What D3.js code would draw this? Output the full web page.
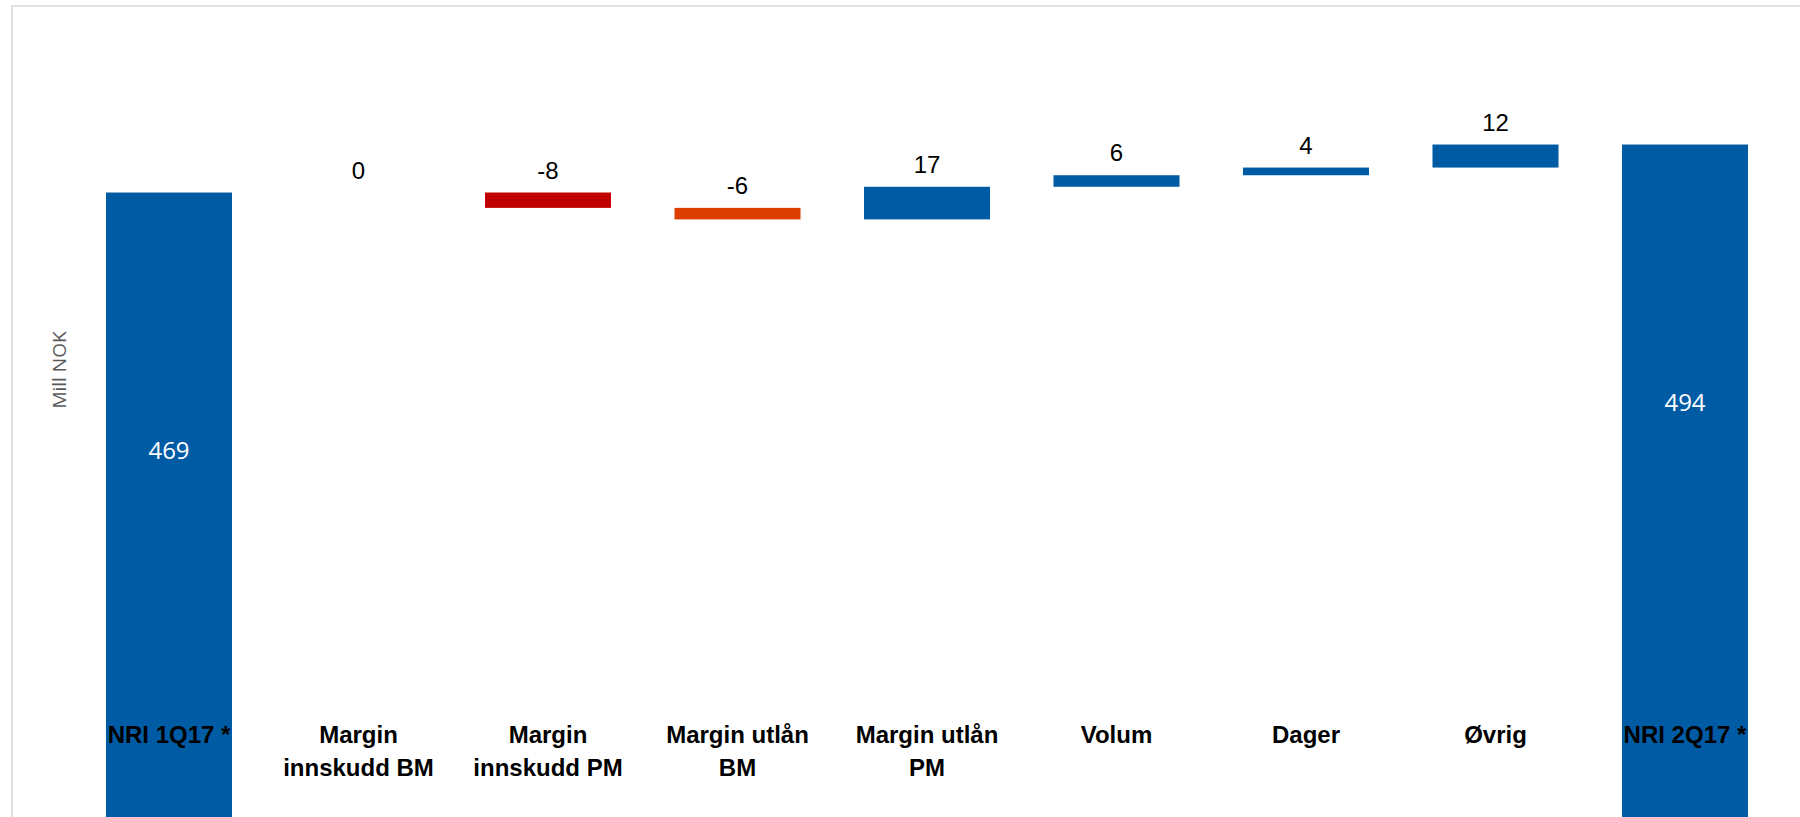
<!DOCTYPE html>
<html>
<head>
<meta charset="utf-8">
<script src="https://cdn.jsdelivr.net/npm/d3@7"></script>
<style>
  body { margin: 0; background: #fff; }
  svg { display: block; }
</style>
</head>
<body>
<div id="canvas"></div>
<script>
// chart data
var categories = ['NRI 1Q17 *', 'Margin innskudd BM', 'Margin innskudd PM', 'Margin utlån BM',
                  'Margin utlån PM', 'Volum', 'Dager', 'Øvrig', 'NRI 2Q17 *'];
var values = [469, 0, -8, -6, 17, 6, 4, 12, 494];
var kinds = ['total', 'delta', 'delta', 'delta', 'delta', 'delta', 'delta', 'delta', 'total'];
var yLabel = 'Mill NOK';

var W = 1800, H = 817;

var svg = d3.select('#canvas')
    .append('svg')
    .attr('width', W)
    .attr('height', H);

// light frame (left and top edges only visible)
svg.append('path')
    .attr('d', 'M12,' + H + 'V6H' + W)
    .attr('fill', 'none')
    .attr('stroke', '#e1e1e1')
    .attr('stroke-width', 2);

// build waterfall rows
var running = 0;
var rows = categories.map(function(c, i){
  var v = values[i], r;
  if (kinds[i] === 'total') {
    r = {cat: c, value: v, kind: 'total', lo: 0, hi: v};
    running = v;
  } else {
    var start = running;
    running += v;
    r = {cat: c, value: v, kind: 'delta', lo: Math.min(start, running), hi: Math.max(start, running)};
  }
  return r;
});

var x = d3.scaleBand()
    .domain(categories)
    .range([106, 1748])
    .paddingInner(0.335)
    .paddingOuter(0);

// axis starts far below the visible part of the picture
var y = d3.scaleLinear()
    .domain([0, 500])
    .range([1093, 133]);

var color = d3.scaleOrdinal()
    .domain(['Margin innskudd PM', 'Margin utlån BM'])
    .range(['#c00000', '#dc3d00'])
    .unknown('#005ba5');

var bars = svg.selectAll('.bar')
    .data(rows)
    .enter()
    .append('g')
    .attr('class', 'bar')
    .attr('transform', function(d){ return 'translate(' + x(d.cat) + ',0)'; });

bars.append('rect')
    .attr('width', x.bandwidth())
    .attr('y', function(d){ return y(d.hi); })
    .attr('height', function(d){ return y(d.lo) - y(d.hi); })
    .attr('fill', function(d){ return d.kind === 'total' ? '#005ba5' : color(d.cat); });

// value labels above the floating bars
bars.filter(function(d){ return d.kind === 'delta'; })
    .append('text')
    .attr('x', x.bandwidth() / 2)
    .attr('y', function(d){ return y(d.hi) - 14; })
    .attr('text-anchor', 'middle')
    .style('font-family', '"Liberation Sans", Arial, sans-serif')
    .style('font-size', '24px')
    .attr('fill', '#000')
    .text(function(d){ return d.value; });

// white labels inside the total bars
bars.filter(function(d){ return d.kind === 'total'; })
    .append('text')
    .attr('x', x.bandwidth() / 2)
    .attr('y', function(d){ return y(d.hi) + 258; })
    .attr('dy', '0.35em')
    .attr('text-anchor', 'middle')
    .style('font-family', '"Open Sans", sans-serif')
    .style('font-size', '24px')
    .attr('fill', '#fff')
    .text(function(d){ return d.value; });

// category labels, wrapped to the band
var catLabels = bars.append('text')
    .attr('text-anchor', 'middle')
    .style('font-family', '"Liberation Sans", Arial, sans-serif')
    .style('font-size', '24px')
    .style('font-weight', 'bold')
    .attr('fill', '#000')
    .text(function(d){ return d.cat; });

catLabels.each(function(){
  var t = d3.select(this),
      words = t.text().split(' '),
      lines = [], line = [];
  t.text(null);
  var tmp = t.append('tspan');
  words.forEach(function(w){
    line.push(w);
    tmp.text(line.join(' '));
    if (tmp.node().getComputedTextLength() > 165 && line.length > 1) {
      line.pop();
      lines.push(line.join(' '));
      line = [w];
    }
  });
  lines.push(line.join(' '));
  tmp.remove();
  lines.forEach(function(l, i){
    t.append('tspan')
      .attr('x', x.bandwidth() / 2)
      .attr('y', 743 + i * 33)
      .text(l);
  });
});

// y axis title
svg.append('text')
    .attr('transform', 'translate(59,370) rotate(-90)')
    .attr('dy', '0.35em')
    .attr('text-anchor', 'middle')
    .style('font-family', '"Open Sans", sans-serif')
    .style('font-size', '19px')
    .attr('fill', '#595959')
    .text(yLabel);
</script>
</body>
</html>
